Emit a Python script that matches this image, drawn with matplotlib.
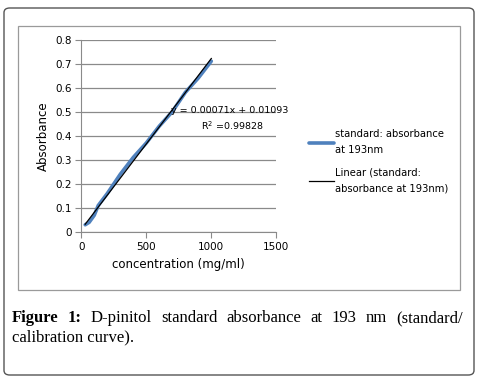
import matplotlib.pyplot as plt
from matplotlib.patches import FancyBboxPatch, Rectangle
import numpy as np

# standard curve readings
conc = [30, 60, 100, 130, 200, 250, 300, 400, 500, 600, 700, 800, 900, 1000]
absorb = [0.03, 0.04, 0.07, 0.11, 0.16, 0.20, 0.24, 0.31, 0.37, 0.44, 0.50, 0.58, 0.64, 0.71]

# trendline coefficients
slope = 0.00071
intercept = 0.01093
r2 = 0.99828

x_ticks = [0, 500, 1000, 1500]
y_ticks = [0, 0.1, 0.2, 0.3, 0.4, 0.5, 0.6, 0.7, 0.8]

W, H = 479, 384
fig = plt.figure(figsize=(W / 100, H / 100), dpi=100)

# outer rounded frame + inner chart frame
fig.patches.append(FancyBboxPatch((4 / W, 9 / H), 470 / W, 367 / H,
                                  boxstyle="round,pad=0,rounding_size=0.012",
                                  transform=fig.transFigure, fill=False,
                                  edgecolor='#555555', linewidth=1.0))
fig.patches.append(Rectangle((18 / W, (H - 290) / H), 442 / W, 264 / H,
                             transform=fig.transFigure, fill=False,
                             edgecolor='#9a9a9a', linewidth=0.9))

ax = fig.add_axes([81.3 / W, (H - 232) / H, 195 / W, 192.5 / H])

ax.plot(conc, absorb, color='#4F81BD', linewidth=2.6, solid_capstyle='round',
        label='standard: absorbance\nat 193nm')
xs = np.array([conc[0], conc[-1]])
ax.plot(xs, slope * xs + intercept, color='black', linewidth=0.9,
        label='Linear (standard:\nabsorbance at 193nm)')

ax.set_xlim(0, 1500)
ax.set_ylim(0, 0.8)
ax.set_xticks(x_ticks)
ax.set_yticks(y_ticks)
ax.set_yticklabels(['0'] + [f'{v:.1f}' for v in y_ticks[1:]])
ax.yaxis.grid(True, color='#8a8a8a', linewidth=0.9)
ax.set_axisbelow(True)
for s in ['top', 'right']:
    ax.spines[s].set_visible(False)
for s in ['left', 'bottom']:
    ax.spines[s].set_color('#8a8a8a')
ax.tick_params(colors='#8a8a8a', labelcolor='black', labelsize=7.5, length=4, width=0.8)
ax.tick_params(axis='y', pad=3)

ax.set_xlabel('concentration (mg/ml)', fontsize=8.5, labelpad=4)
ax.set_ylabel('Absorbance', fontsize=8.5, labelpad=4)

ax.text(690, 0.503, f'y = {slope:.5f}x + {intercept:.5f}', fontsize=6.8, va='center', ha='left')
ax.text(920, 0.443, f'R$^2$ ={r2:.5f}', fontsize=6.8, va='center', ha='left')

leg = ax.legend(loc='upper left', bbox_to_anchor=(1.12, 0.58), frameon=False,
                fontsize=7.2, handlelength=2.5, handletextpad=0.15, labelspacing=1.3)
for t in leg.get_texts():
    t.set_linespacing(1.7)

# caption, first line justified between the margins
words = ['Figure', '1:', 'D-pinitol', 'standard', 'absorbance', 'at', '193', 'nm', '(standard/']
left, right = 12, 463
renderer = fig.canvas.get_renderer()
texts = []
for i, w in enumerate(words):
    t = fig.text(0, 1 - 318 / H, w, fontsize=12, family='Liberation Serif',
                 fontweight='bold' if i < 2 else 'normal', va='center', ha='left')
    texts.append(t)
widths = [t.get_window_extent(renderer).width for t in texts]
gap = (right - left - sum(widths)) / (len(words) - 1)
x = left
for t, w in zip(texts, widths):
    t.set_x(x / W)
    x += w + gap
fig.text(left / W, 1 - 337 / H, 'calibration curve).', fontsize=12,
         family='Liberation Serif', va='center', ha='left')

fig.savefig('out.png', dpi=100)
